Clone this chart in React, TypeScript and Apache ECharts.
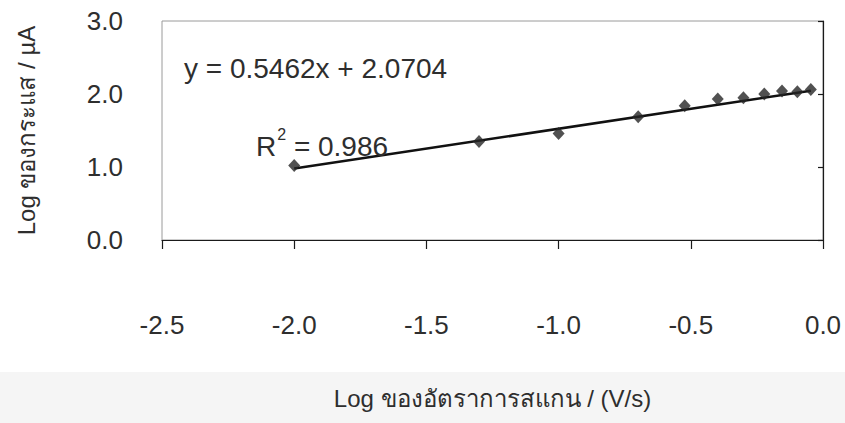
import React, { useEffect, useRef } from "react";
import * as echarts from "echarts";

// Log of scan rate (V/s) and log of peak current (µA)
const logScanRate = [-2.0, -1.301, -1.0, -0.699, -0.523, -0.398, -0.301, -0.222, -0.155, -0.097, -0.046];
const logCurrent = [1.02, 1.35, 1.46, 1.69, 1.84, 1.93, 1.95, 2.0, 2.04, 2.03, 2.06];

// Linear fit reported on the chart
const slope = 0.5462;
const intercept = 2.0704;
const rSquared = "0.986";

const xTicks = { min: -2.5, max: 0, interval: 0.5 };
const yTicks = { min: 0, max: 3, interval: 1 };

const FONT = "'Liberation Sans', Arial, 'Noto Sans', sans-serif";
const TEXT = "#2e2e2e";

export default function App() {
  const ref = useRef<HTMLDivElement>(null);

  useEffect(() => {
    if (!ref.current) return;
    const chart = echarts.init(ref.current, undefined, { renderer: "svg" });

    const points = logScanRate.map((x, i) => [x, logCurrent[i]]);
    const xFirst = Math.min(...logScanRate);
    const xLast = Math.max(...logScanRate);
    const fitLine = [
      [xFirst, slope * xFirst + intercept],
      [xLast, slope * xLast + intercept],
    ];

    chart.setOption({
      animation: false,
      backgroundColor: "#ffffff",
      textStyle: { fontFamily: FONT },
      grid: {
        left: 162,
        right: 22,
        top: 21,
        bottom: 183,
        show: true,
        borderColor: "#9a9a9a",
        borderWidth: 1,
      },
      graphic: [
        {
          type: "rect",
          z: -10,
          shape: { x: 0, y: 372, width: 845, height: 51 },
          style: { fill: "#f5f5f5" },
        },
        {
          type: "text",
          left: 184,
          top: 54,
          z: 10,
          style: {
            text: "y = 0.5462x + 2.0704",
            font: `28px ${FONT}`,
            fill: TEXT,
          },
        },
        {
          type: "text",
          left: 256,
          top: 126,
          z: 10,
          style: {
            text: `{r|R}{s|2}{r| = ${rSquared}}`,
            fill: TEXT,
            rich: {
              r: { fontSize: 28, fontFamily: FONT, fill: TEXT, verticalAlign: "bottom", lineHeight: 34 },
              s: { fontSize: 16, fontFamily: FONT, fill: TEXT, verticalAlign: "top", lineHeight: 34, padding: [0, 0, 14, 1] },
            },
          },
        },
      ],
      xAxis: {
        type: "value",
        min: xTicks.min,
        max: xTicks.max,
        interval: xTicks.interval,
        name: "Log ของอัตราการสแกน / (V/s)",
        nameLocation: "middle",
        nameGap: 146,
        nameTextStyle: { fontSize: 24, color: TEXT, fontFamily: FONT },
        axisLine: { onZero: false, lineStyle: { color: "#1a1a1a", width: 1.2 } },
        axisTick: { show: true, inside: false, length: 9, lineStyle: { color: "#1a1a1a", width: 1.2 } },
        axisLabel: {
          margin: 72,
          fontSize: 26,
          color: TEXT,
          fontFamily: FONT,
          formatter: (v: number) => (Math.abs(v) < 1e-9 ? "0.0" : v.toFixed(1)),
        },
        splitLine: { show: false },
      },
      yAxis: {
        type: "value",
        min: yTicks.min,
        max: yTicks.max,
        interval: yTicks.interval,
        name: "Log ของกระแส / µA",
        nameLocation: "middle",
        nameGap: 124,
        nameRotate: 90,
        nameTextStyle: { fontSize: 24, color: TEXT, fontFamily: FONT },
        axisLine: { lineStyle: { color: "#1a1a1a", width: 1.2 } },
        axisTick: { show: true, inside: false, length: 5, lineStyle: { color: "#1a1a1a", width: 1.2 } },
        axisLabel: {
          margin: 39,
          fontSize: 26,
          color: TEXT,
          fontFamily: FONT,
          formatter: (v: number) => v.toFixed(1),
        },
        splitLine: { show: false },
      },
      series: [
        {
          type: "line",
          data: fitLine,
          symbol: "none",
          lineStyle: { color: "#111111", width: 2.5 },
          z: 2,
        },
        {
          type: "scatter",
          data: points,
          symbol: "diamond",
          symbolSize: [12, 13],
          itemStyle: { color: "#262626" },
          z: 3,
        },
      ],
    });

    return () => chart.dispose();
  }, []);

  return (
    <div
      ref={ref}
      style={{ position: "fixed", left: 0, top: 0, width: 845, height: 423 }}
    />
  );
}
